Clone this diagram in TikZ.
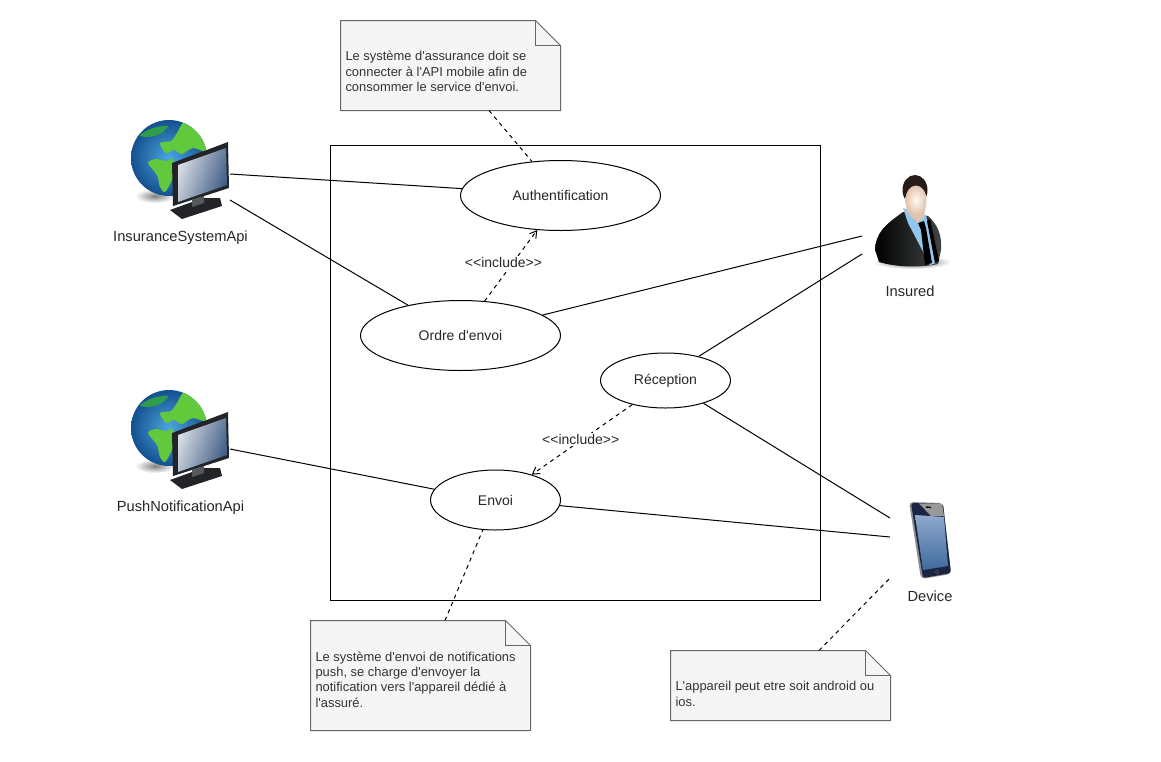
\documentclass[tikz,border=0pt]{standalone}
\usepackage{fontspec}
\setmainfont{Liberation Sans}[Ligatures=TeXOff]
\usetikzlibrary{shapes.geometric, arrows.meta}
\definecolor{noteFill}{HTML}{F5F5F5}
\definecolor{noteLine}{HTML}{666666}
\definecolor{noteText}{HTML}{333333}
\definecolor{seaLight}{HTML}{4CA6E0}
\definecolor{seaDark}{HTML}{14508F}
\definecolor{landLight}{HTML}{62C83C}
\definecolor{landDark}{HTML}{2F9E4A}
\definecolor{frameDark}{HTML}{222427}
\definecolor{frameMid}{HTML}{55585D}
\definecolor{glassLight}{HTML}{D8DEE5}
\definecolor{glassDark}{HTML}{3F5C85}
\definecolor{shirtBlue}{HTML}{93C6EC}
\definecolor{skinLight}{HTML}{FFFAF5}
\definecolor{skinDark}{HTML}{E2C4AE}
\definecolor{hairDark}{HTML}{241C18}
\definecolor{phoneNavy}{HTML}{1B2440}
\definecolor{phoneEdge}{HTML}{8A8D92}
\definecolor{phoneTop}{HTML}{8FA9CC}
\definecolor{phoneLow}{HTML}{3F6A9E}
\tikzset{
	usecase/.style={draw, ellipse, fill=white, inner sep=0pt},
	actorlabel/.style={font=\fontsize{11}{13}\selectfont},
	notefold/.style={draw=noteLine, fill=noteFill},
	notetext/.style={anchor=west, align=left, inner sep=0pt, text=noteText, font=\fontsize{9.7}{11.6}\selectfont},
	notelink/.style={dashed},
	includelink/.style={dashed, -{Straight Barb[length=5pt,width=6pt]}},
	earthmonitor/.pic={
		% shadow and globe
		\shade[inner color=black!50, outer color=white] (-25,26) ellipse (20 and 7);
		\shade[inner color=seaLight, outer color=seaDark] (-11,-12) circle (38);
		\begin{scope}
			\clip (-11,-12) circle (38);
			\fill[landLight] plot[smooth cycle] coordinates {(-32,-7) (-24,-11) (-14,-9) (-7,-11) (-5,2) (-9,12) (-15,22) (-20,17) (-23,5)};
			\fill[landLight] plot[smooth cycle] coordinates {(-20,-27) (-9,-29) (-3,-37) (5,-48) (27,-40) (30,-18) (13,-22) (2,-16) (-6,-20) (-14,-17)};
			\fill[landDark] plot[smooth cycle] coordinates {(-40,-35) (-27,-42) (-12,-44) (-20,-36) (-32,-33)};
		\end{scope}
		% monitor
		\fill[frameDark] (-10,40) -- (2,49) -- (42,36) -- (40,28) -- (22,28) -- (12,32) -- cycle;
		\fill[frameMid] (12,30) -- (24,26) -- (24,33) -- (12,37) -- cycle;
		\fill[frameDark] (-8,-7) -- (48,-28) -- (49,18) -- (-7,36) -- cycle;
		\shade[left color=glassLight, right color=glassDark, shading angle=70] (-2,-5) -- (46,-22) -- (47,15) -- (-2,32) -- cycle;
	}
}
\begin{document}
\begin{tikzpicture}[x=0.75pt, y=-0.75pt, line width=0.75pt, font=\fontsize{10.5}{12.5}\selectfont, text=black!85]
	\useasboundingbox (0,0) rectangle (1161,761);

	% System boundary
	\node[draw, inner sep=0pt, minimum width=367.5pt, minimum height=341.25pt] (systemBox) at (575.5,373) {};

	% Use cases
	\node[usecase, minimum width=150pt, minimum height=52.5pt] (authUc) at (560.5,195.5) {Authentification};
	\node[usecase, minimum width=150pt, minimum height=52.5pt] (ordreUc) at (460.5,335.5) {Ordre d'envoi};
	\node[usecase, minimum width=97.5pt, minimum height=41.25pt] (receptionUc) at (665.5,380.5) {Réception};
	\node[usecase, minimum width=97.5pt, minimum height=45pt] (envoiUc) at (495.5,500) {Envoi};

	% Insurance and push APIs (left)
	\pic at (180,170) {earthmonitor};
	\pic at (180,440) {earthmonitor};
	\node[actorlabel] (insuranceLabel) at (180.5,237.5) {InsuranceSystemApi};
	\node[actorlabel] (pushLabel) at (180.5,507.5) {PushNotificationApi};
	\coordinate (insuranceTop) at (230,174);
	\coordinate (insuranceLow) at (230,200);
	\coordinate (pushPort) at (230,449);

	% Insured (right)
	\shade[inner color=black!65, outer color=white] (912,262) ellipse (39 and 7);
	\shade[left color=black, right color=frameDark!85!white] (875,250) .. controls (876,232) and (885,225) .. (903,212) -- (928,216) .. controls (938,225) and (942,235) .. (941,250) -- (938,264) .. controls (920,268) and (895,267) .. (879,262) -- cycle;
	\fill[shirtBlue] (903,208) -- (926,215) -- (936,263) -- (930,265) -- (908,223) -- cycle;
	\fill[black] (918,223) -- (924,221) -- (926,228) -- (932,263) -- (925,265) -- (921,230) -- cycle;
	\fill[black] (930,219) -- (939,261) -- (935,263) -- (927,221) -- cycle;
	\fill[skinDark] (906,205) -- (926,205) -- (924,216) -- (918,223) -- (907,212) -- cycle;
	\fill[hairDark] (915,190) ellipse (12.5 and 15);
	\shade[inner color=skinLight, outer color=skinDark] (916,200) ellipse (10.5 and 14.5);
	\node[actorlabel] (insuredLabel) at (910,291) {Insured};
	\coordinate (insuredTop) at (862,236);
	\coordinate (insuredLow) at (862,254);

	% Device (right)
	\fill[phoneEdge, rounded corners=3pt] (909,502) -- (943,503) -- (951,574) -- (921,579) -- cycle;
	\fill[phoneNavy, rounded corners=2pt] (911,503) -- (943,504) -- (951,573) -- (923,578) -- cycle;
	\fill[black!40] (919,503.5) -- (942,504) -- (944,516) -- (931,516) -- cycle;
	\shade[top color=phoneTop, bottom color=phoneLow] (915,515) -- (944,517) -- (948,566) -- (923,570) -- cycle;
	\draw[black!70, line width=0.5pt] (937,572) circle (1.8);
	\draw[black, line width=1pt] (926,507) -- (931,507.5);
	\node[actorlabel] (deviceLabel) at (930,596) {Device};
	\coordinate (deviceTop) at (890,518);
	\coordinate (deviceMid) at (890,537);
	\coordinate (deviceLow) at (890,578);

	% Notes
	\draw[notefold] (340.5,20.5) -- (535.5,20.5) -- (560.5,45.5) -- (560.5,110.5) -- (340.5,110.5) -- cycle;
	\draw[noteLine] (535.5,20.5) -- (535.5,45.5) -- (560.5,45.5);
	\node[notetext] (noteAuthText) at (345,71.5) {Le système d'assurance doit se\\connecter à l'API mobile afin de\\consommer le service d'envoi.};
	\coordinate (noteAuthPort) at (489,110.5);

	\draw[notefold] (310.5,620.5) -- (505.5,620.5) -- (530.5,645.5) -- (530.5,730.5) -- (310.5,730.5) -- cycle;
	\draw[noteLine] (505.5,620.5) -- (505.5,645.5) -- (530.5,645.5);
	\node[notetext] (notePushText) at (315,679.5) {Le système d'envoi de notifications\\push, se charge d'envoyer la\\notification vers l'appareil dédié à\\l'assuré.};
	\coordinate (notePushPort) at (445,620.5);

	\draw[notefold] (670.5,650.5) -- (865.5,650.5) -- (890.5,675.5) -- (890.5,720.5) -- (670.5,720.5) -- cycle;
	\draw[noteLine] (865.5,650.5) -- (865.5,675.5) -- (890.5,675.5);
	\node[notetext] (noteDeviceText) at (675,694) {L'appareil peut etre soit android ou\\ios.};
	\coordinate (noteDevicePort) at (819,650.5);

	% Associations
	\draw (insuranceTop) -- (authUc.176);
	\draw (insuranceLow) -- (ordreUc.150);
	\draw (ordreUc.14) -- (insuredTop);
	\draw (receptionUc.36) -- (insuredLow);
	\draw (receptionUc.-31) -- (deviceTop);
	\draw (envoiUc.-5) -- (deviceMid);
	\draw (pushPort) -- (envoiUc.170);

	% Include links and their labels
	\draw[includelink] (ordreUc.55) -- (authUc.-124) node[midway, fill=white, inner sep=1pt, xshift=-5.6pt, yshift=2.6pt] (includeAuth) {<<include>>};
	\draw[includelink] (receptionUc.-144) -- (envoiUc.35) node[midway, fill=white, inner sep=1pt, xshift=-1pt, yshift=0pt] (includeEnvoi) {<<include>>};

	% Note links
	\draw[notelink] (noteAuthPort) -- (authUc.130);
	\draw[notelink] (notePushPort) -- (envoiUc.-113);
	\draw[notelink] (noteDevicePort) -- (deviceLow);
\end{tikzpicture}
\end{document}
